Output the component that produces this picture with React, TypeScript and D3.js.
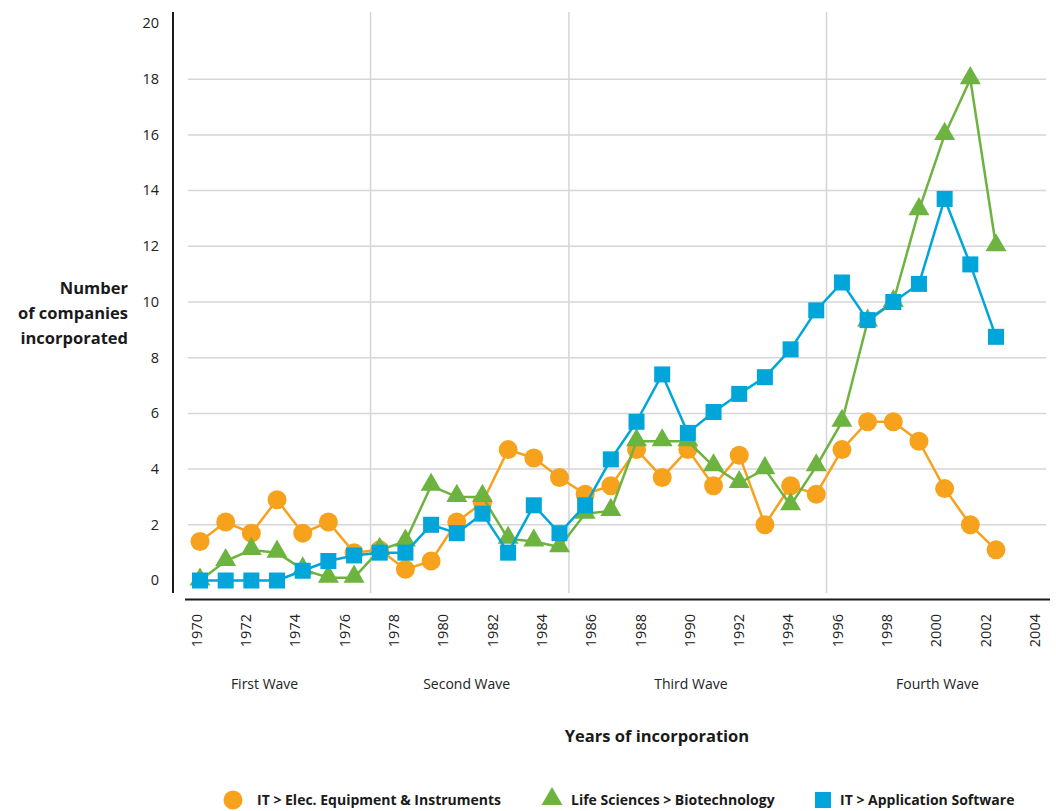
import * as d3 from "d3";

// values, one per year 1970..2001
const years = d3.range(1970, 2002);
const elecEquipment = [1.4, 2.1, 1.7, 2.9, 1.7, 2.1, 1.0, 1.1, 0.4, 0.7, 2.1, 2.8, 4.7, 4.4, 3.7, 3.1, 3.4, 4.7, 3.7, 4.7, 3.4, 4.5, 2.0, 3.4, 3.1, 4.7, 5.7, 5.7, 5.0, 3.3, 2.0, 1.1];
const biotech = [0.0, 0.7, 1.1, 1.0, 0.4, 0.1, 0.1, 1.1, 1.4, 3.4, 3.0, 3.0, 1.5, 1.4, 1.2, 2.4, 2.5, 5.0, 5.0, 5.0, 4.1, 3.5, 4.0, 2.7, 4.1, 5.7, 9.3, 10.0, 13.3, 16.0, 18.0, 12.0];
const appSoftware = [0.0, 0.0, 0.0, 0.0, 0.35, 0.7, 0.9, 1.0, 1.0, 2.0, 1.7, 2.4, 1.0, 2.7, 1.7, 2.7, 4.35, 5.7, 7.4, 5.3, 6.05, 6.7, 7.3, 8.3, 9.7, 10.7, 9.35, 10.0, 10.65, 13.7, 11.35, 8.75];

const tickYears = d3.range(1970, 2005, 2);
const yTicks = d3.range(0, 21, 2);
const waveBreaks = [1977, 1985.05, 1995.5];
const waves = [
  { label: "First Wave", at: 1972.7 },
  { label: "Second Wave", at: 1980.9 },
  { label: "Third Wave", at: 1990 },
  { label: "Fourth Wave", at: 2000 },
];

const series = [
  { name: "IT > Elec. Equipment & Instruments", values: elecEquipment, color: "#F6A21D", shape: "circle" },
  { name: "Life Sciences > Biotechnology", values: biotech, color: "#6DB33F", shape: "triangle" },
  { name: "IT > Application Software", values: appSoftware, color: "#00A5D9", shape: "square" },
];

const W = 1056;
const H = 811;
const FONT = "'Open Sans', 'Noto Sans', sans-serif";

const y = d3.scaleLinear().domain([0, 20]).range([580.5, 23.5]);
const xPts = d3.scaleLinear().domain([1970, 2001]).range([200, 996]);
const xTick = d3.scaleLinear().domain([1970, 2004]).range([198, 1036]);

function Marker({ shape, cx, cy, color }: { shape: string; cx: number; cy: number; color: string }) {
  if (shape === "circle") return <circle cx={cx} cy={cy} r={9.5} fill={color} />;
  if (shape === "square") return <rect x={cx - 8} y={cy - 8} width={16} height={16} fill={color} />;
  const sym = d3.symbol().type(d3.symbolTriangle).size(190)();
  return <path d={sym || ""} transform={`translate(${cx},${cy - 1})`} fill={color} />;
}

export default function App() {
  const line = d3.line<number>().x((_, i) => xPts(years[i])).y((d) => y(d));

  return (
    <svg width={W} height={H} style={{ position: "absolute", left: 0, top: 0, background: "#fff" }} fontFamily={FONT}>
      {/* horizontal grid */}
      {yTicks.filter((t) => t > 0 && t < 20).map((t) => (
        <line key={`g${t}`} x1={188} x2={1046} y1={y(t)} y2={y(t)} stroke="#d6d6d6" strokeWidth={1.5} />
      ))}
      {/* wave separators */}
      {waveBreaks.map((b) => (
        <line key={`w${b}`} x1={xTick(b)} x2={xTick(b)} y1={12} y2={593} stroke="#d6d6d6" strokeWidth={1.5} />
      ))}

      {/* axes */}
      <line x1={173} x2={173} y1={12} y2={593} stroke="#1a1a1a" strokeWidth={2} />
      <line x1={185} x2={1050} y1={599.5} y2={599.5} stroke="#1a1a1a" strokeWidth={2} />

      {yTicks.map((t) => (
        <text key={`yt${t}`} x={159} y={y(t) + 1} textAnchor="end" dominantBaseline="middle" fontSize={14.5} fill="#222">
          {t}
        </text>
      ))}
      {tickYears.map((yr) => (
        <text
          key={`xt${yr}`}
          transform={`translate(${xTick(yr)},614) rotate(-90)`}
          textAnchor="end"
          dominantBaseline="middle"
          fontSize={14.5}
          fill="#222"
        >
          {yr}
        </text>
      ))}
      {waves.map((w) => (
        <text key={w.label} x={xTick(w.at)} y={689} textAnchor="middle" fontSize={14} fill="#222">
          {w.label}
        </text>
      ))}

      <text x={128} y={294} textAnchor="end" fontSize={16.5} fontWeight="bold" fill="#1a1a1a">
        <tspan x={128}>Number</tspan>
        <tspan x={128} dy={25}>of companies</tspan>
        <tspan x={128} dy={25}>incorporated</tspan>
      </text>
      <text x={657} y={742} textAnchor="middle" fontSize={16.5} fontWeight="bold" fill="#1a1a1a">
        Years of incorporation
      </text>

      {/* series */}
      {series.map((s) => (
        <g key={s.name}>
          <path d={line(s.values) || ""} fill="none" stroke={s.color} strokeWidth={2.5} strokeLinejoin="round" />
          {s.values.map((v, i) => (
            <Marker key={i} shape={s.shape} cx={xPts(years[i])} cy={y(v)} color={s.color} />
          ))}
        </g>
      ))}

      {/* legend */}
      {series.map((s, i) => {
        const lx = [233, 552, 823][i];
        const tx = [257, 571, 840][i];
        return (
          <g key={`lg${i}`}>
            <Marker shape={s.shape} cx={lx} cy={800} color={s.color} />
            <text x={tx} y={805} fontSize={14} fontWeight="bold" fill="#1a1a1a">
              {s.name}
            </text>
          </g>
        );
      })}
    </svg>
  );
}
